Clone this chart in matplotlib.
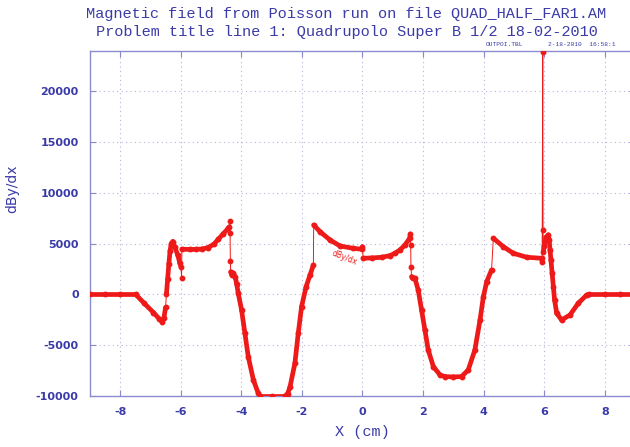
import matplotlib
matplotlib.use("agg")
import matplotlib.pyplot as plt
import numpy as np

plt.rcParams['axes.unicode_minus'] = False

# dBy/dx along X
x = [-9.0, -8.5, -8.0, -7.49, -7.2, -6.9, -6.7, -6.61,
     -6.55, -6.5, -6.47, -6.43, -6.39, -6.35, -6.31, -6.26,
     -6.2, -6.1, -6.03, -5.99, -5.97,
     -5.96, -5.7, -5.5, -5.3, -5.1, -4.9, -4.76, -4.6, -4.43,
     -4.39, -4.38, -4.37, -4.36, -4.35, -4.31,
     -4.26, -4.2, -4.15, -4.10, -3.99, -3.88, -3.77, -3.60, -3.44,
     -3.38, -3.0, -2.56, -2.47, -2.39, -2.23, -2.12, -2.01, -1.86, -1.73, -1.62,
     -1.61, -1.40, -1.07, -0.74, -0.30, -0.03, 0.0,
     0.02, 0.3, 0.63, 0.9, 1.07, 1.25, 1.40, 1.56,
     1.58, 1.59, 1.60, 1.62, 1.66, 1.73,
     1.84, 1.95, 2.06, 2.17, 2.34, 2.56, 2.72, 3.0, 3.27,
     3.49, 3.71, 3.88, 3.99, 4.10, 4.26,
     4.32, 4.65, 4.98, 5.42, 5.91,
     5.93, 5.95, 5.96, 5.97, 6.0, 6.06, 6.13, 6.16, 6.19,
     6.22, 6.26, 6.30, 6.34, 6.41, 6.57, 6.85, 7.12, 7.40, 7.48,
     8.0, 8.5, 9.0]
y = [0, 0, 0, 0, -900, -1800, -2450, -2700,
     -2300, -1300, 0, 1500, 3000, 4300, 5000, 5200,
     4700, 3900, 3100, 2700, 1640,
     4440, 4420, 4430, 4460, 4600, 4950, 5420, 5950, 6500,
     6650, 7260, 6040, 3280, 2230, 1900,
     2070, 1700, 1000, 100, -1550, -3850, -6150, -8450, -9760,
     -10050, -10050, -10050, -9800, -9110, -6800, -3850, -1220, 750, 1900, 2890,
     6830, 6170, 5350, 4760, 4530, 4440, 4700,
     3550, 3580, 3650, 3800, 4040, 4400, 4860, 5520,
     5950, 4860, 2720, 1740, 1580, 1580,
     420, -1550, -3520, -5490, -7140, -7960, -8120, -8150, -8120,
     -7460, -5490, -2530, -240, 1240, 2400,
     5520, 4690, 4040, 3650, 3550,
     3220, 23900, 6340, 4200, 4800, 5600, 5850, 5400, 4400,
     3380, 2070, 750, -560, -1870, -2530, -2040, -890, -70, 0,
     0, 0, 0]

xticks = [-8, -6, -4, -2, 0, 2, 4, 6, 8]
yticks = [-10000, -5000, 0, 5000, 10000, 15000, 20000]

blue = '#3b3ba8'
red = '#ee1a1a'

fig = plt.figure(figsize=(6.3, 4.47), dpi=100)
ax = fig.add_axes([0.1425, 0.1148, 0.8657, 0.7714])

xa = np.array(x)
ya = np.array(y)
# thin line through everything, thick line only where the curve is continuous
ax.plot(xa, ya, color=red, lw=0.7, zorder=3)
slope = np.abs(np.diff(ya) / np.diff(xa))
for i in range(len(xa) - 1):
    if slope[i] < 40000:
        ax.plot(xa[i:i + 2], ya[i:i + 2], color=red, lw=3.4,
                solid_capstyle='round', zorder=3)
ax.plot(xa, ya, 'o', color=red, ms=3.2, zorder=4)

ax.text(-0.6, 3580, 'dBy/dx', color=red, fontsize=5.5, rotation=-22,
        ha='center', va='center', zorder=5)

ax.set_xlim(-9, 9)
ax.set_ylim(-10000, 24000)
ax.set_xticks(xticks)
ax.set_yticks(yticks)
ax.grid(True, color='#b4b4d8', linestyle=(0, (1, 3)), lw=0.8)
ax.tick_params(direction='in', length=4, color='#8888cc', top=True,
               right=True, labelsize=8, labelcolor=blue, pad=8)
for lab in ax.get_xticklabels() + ax.get_yticklabels():
    lab.set_fontweight('bold')
for s in ax.spines.values():
    s.set_color('#8c8cd0')
    s.set_linewidth(1.0)

ax.set_xlabel('X (cm)', family='Liberation Mono', fontsize=11, color=blue,
              labelpad=6)
ax.set_ylabel('dBy/dx', fontsize=10, color=blue)
ax.yaxis.set_label_coords(-0.13, 0.6)

fig.text(0.55, 0.968, 'Magnetic field from Poisson run on file QUAD_HALF_FAR1.AM',
         family='Liberation Mono', fontsize=11, color=blue, ha='center', va='center')
fig.text(0.55, 0.928, 'Problem title line 1: Quadrupolo Super B 1/2 18-02-2010',
         family='Liberation Mono', fontsize=11, color=blue, ha='center', va='center')
fig.text(0.771, 0.901, 'OUTPOI.TBL', family='Liberation Mono', fontsize=4.5,
         color=blue, ha='left', va='center')
fig.text(0.87, 0.901, '2-18-2010  16:58:1', family='Liberation Mono', fontsize=4.5,
         color=blue, ha='left', va='center')

plt.savefig('out.png', dpi=100)
plt.close()
